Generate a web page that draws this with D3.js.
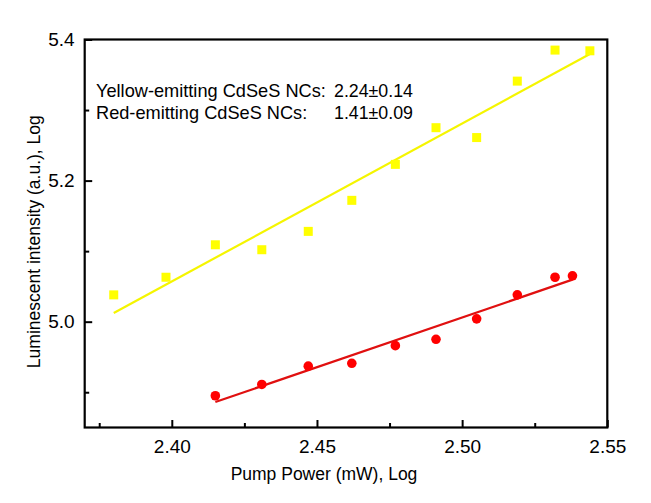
<!DOCTYPE html>
<html>
<head>
<meta charset="utf-8">
<script src="https://cdn.jsdelivr.net/npm/d3@7"></script>
<style>
  html, body { margin: 0; padding: 0; background: #fff; }
  svg { display: block; font-family: "Liberation Sans", Arial, sans-serif; }
</style>
</head>
<body>
<svg id="chart" width="651" height="503"></svg>
<script>
// ---- data ----
const yellowX = [2.380, 2.398, 2.415, 2.431, 2.447, 2.462, 2.477, 2.491, 2.505, 2.519, 2.532, 2.544];
const yellowY = [5.038, 5.063, 5.109, 5.102, 5.128, 5.172, 5.223, 5.275, 5.261, 5.341, 5.385, 5.384];
const redX = [2.415, 2.431, 2.447, 2.462, 2.477, 2.491, 2.505, 2.519, 2.532, 2.538];
const redY = [4.895, 4.911, 4.937, 4.941, 4.966, 4.975, 5.004, 5.038, 5.063, 5.065];
const fitSlopes = [2.24, 1.41];
const fitIntercepts = [-0.319, 1.481];
const xTicks = [2.40, 2.45, 2.50, 2.55];
const xMinorTicks = [2.375, 2.425, 2.475, 2.525];
const yTicks = [5.0, 5.2, 5.4];
const yMinorTicks = [4.9, 5.1, 5.3];
const xDomain = [2.37, 2.55];
const yDomain = [4.85, 5.4];
const annotationLabels = ["Yellow-emitting CdSeS NCs:", "Red-emitting CdSeS NCs:"];
const annotationValues = ["2.24\u00B10.14", "1.41\u00B10.09"];
const xTitle = "Pump Power (mW), Log";
const yTitle = "Luminescent intensity (a.u.), Log";

// ---- layout ----
const L = 84.7, R = 607.3, T = 39.5, B = 427.5;
const svg = d3.select("#chart");
const x = d3.scaleLinear().domain(xDomain).range([L, R]);
const y = d3.scaleLinear().domain(yDomain).range([B, T]);

const tickFont = "19px";

// x axis major
const gx = svg.append("g").attr("transform", `translate(0,${B})`)
  .call(d3.axisBottom(x).tickValues(xTicks).tickFormat(d3.format(".2f"))
    .tickSizeInner(-7.5).tickSizeOuter(0).tickPadding(12));
gx.select(".domain").remove();
gx.selectAll("line").attr("stroke", "#000").attr("stroke-width", 2);
gx.selectAll("text").attr("font-size", tickFont).attr("font-family", "Liberation Sans, Arial, sans-serif").attr("fill", "#000");

// x axis minor
const gxm = svg.append("g").attr("transform", `translate(0,${B})`)
  .call(d3.axisBottom(x).tickValues(xMinorTicks).tickFormat("").tickSizeInner(-4.5).tickSizeOuter(0));
gxm.select(".domain").remove();
gxm.selectAll("line").attr("stroke", "#000").attr("stroke-width", 2);

// y axis major
const gy = svg.append("g").attr("transform", `translate(${L},0)`)
  .call(d3.axisLeft(y).tickValues(yTicks).tickFormat(d3.format(".1f"))
    .tickSizeInner(-7.5).tickSizeOuter(0).tickPadding(10));
gy.select(".domain").remove();
gy.selectAll("line").attr("stroke", "#000").attr("stroke-width", 2);
gy.selectAll("text").attr("font-size", tickFont).attr("font-family", "Liberation Sans, Arial, sans-serif").attr("fill", "#000");

// y axis minor
const gym = svg.append("g").attr("transform", `translate(${L},0)`)
  .call(d3.axisLeft(y).tickValues(yMinorTicks).tickFormat("").tickSizeInner(-4.5).tickSizeOuter(0));
gym.select(".domain").remove();
gym.selectAll("line").attr("stroke", "#000").attr("stroke-width", 2);

// frame
svg.append("rect")
  .attr("x", L).attr("y", T).attr("width", R - L).attr("height", B - T)
  .attr("fill", "none").attr("stroke", "#000").attr("stroke-width", 2.2);

// fit lines
const series = [
  { xs: yellowX, ys: yellowY, color: "#ffff00", lineColor: "#f5f500", shape: "square" },
  { xs: redX, ys: redY, color: "#ff0000", lineColor: "#e01010", shape: "circle" }
];
series.forEach((s, i) => {
  const ext = d3.extent(s.xs);
  const pts = ext.map(v => [v, fitSlopes[i] * v + fitIntercepts[i]]);
  svg.append("path")
    .attr("d", d3.line().x(d => x(d[0])).y(d => y(d[1]))(pts))
    .attr("stroke", s.lineColor).attr("stroke-width", 2.2).attr("fill", "none");
});

// markers
series.forEach(s => {
  const data = s.xs.map((v, i) => [v, s.ys[i]]);
  if (s.shape === "square") {
    svg.append("g").selectAll("rect").data(data).join("rect")
      .attr("x", d => x(d[0]) - 4.5).attr("y", d => y(d[1]) - 4.5)
      .attr("width", 9).attr("height", 9).attr("fill", s.color);
  } else {
    svg.append("g").selectAll("circle").data(data).join("circle")
      .attr("cx", d => x(d[0])).attr("cy", d => y(d[1])).attr("r", 4.8)
      .attr("fill", s.color);
  }
});

// annotation
const annY = [96.7, 119.3];
annotationLabels.forEach((lab, i) => {
  svg.append("text").attr("x", 96).attr("y", annY[i])
    .attr("font-size", "18.2px").attr("fill", "#000").text(lab);
  svg.append("text").attr("x", 334).attr("y", annY[i])
    .attr("font-size", "17.8px").attr("fill", "#000").text(annotationValues[i]);
});

// axis titles
svg.append("text").attr("x", (L + R) / 2 - 22).attr("y", 480)
  .attr("text-anchor", "middle").attr("font-size", "17.5px").attr("fill", "#000").text(xTitle);
svg.append("text").attr("transform", `translate(40,241.7) rotate(-90)`)
  .attr("text-anchor", "middle").attr("font-size", "17.5px").attr("fill", "#000").text(yTitle);
</script>
</body>
</html>
